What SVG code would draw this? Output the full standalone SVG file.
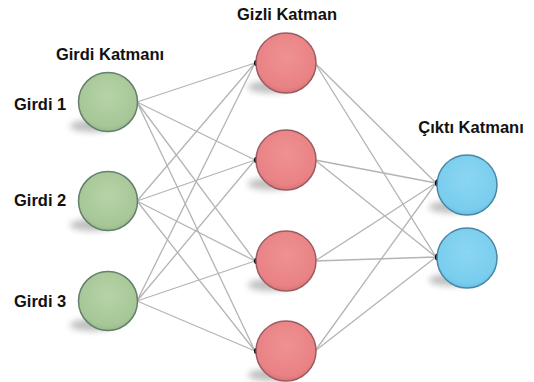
<svg xmlns="http://www.w3.org/2000/svg" width="534" height="382" viewBox="0 0 534 382">
<defs>
<style>
.lbl{font-family:"Liberation Sans",Arial,sans-serif;font-weight:bold;font-size:16.5px;fill:#111}
.ln{stroke:#b4b4b4;stroke-width:1.3;fill:none}
.g{fill:url(#gg);stroke:#64806c;stroke-width:1.5}
.r{fill:url(#gr);stroke:#9a5c62;stroke-width:1.5}
.b{fill:url(#gb);stroke:#4a87a6;stroke-width:1.5}
.sh{fill:#8a8a8a;opacity:0.55;filter:url(#blur)}
.dot{fill:#000}
</style>
<filter id="blur" x="-50%" y="-100%" width="200%" height="300%"><feGaussianBlur stdDeviation="3"/></filter>
<radialGradient id="gg" cx="0.5" cy="0.4" r="0.6"><stop offset="0" stop-color="#b5d3a7"/><stop offset="0.85" stop-color="#a7c798"/><stop offset="1" stop-color="#98ba89"/></radialGradient>
<radialGradient id="gr" cx="0.5" cy="0.4" r="0.6"><stop offset="0" stop-color="#ef9193"/><stop offset="0.85" stop-color="#e98284"/><stop offset="1" stop-color="#da7477"/></radialGradient>
<radialGradient id="gb" cx="0.5" cy="0.4" r="0.6"><stop offset="0" stop-color="#8ad6f3"/><stop offset="0.85" stop-color="#7acdee"/><stop offset="1" stop-color="#69c1e5"/></radialGradient>
</defs>
<rect width="534" height="382" fill="#fff"/>
<g id="connectors">
<path class="ln" d="M137,102L255,63M137,102L255,160M137,102L255,261M137,102L255,351"/>
<path class="ln" d="M137,201L255,63M137,201L255,160M137,201L255,261M137,201L255,351"/>
<path class="ln" d="M137,301L255,63M137,301L255,160M137,301L255,261M137,301L255,351"/>
<path class="ln" d="M315,63L436,183M315,160L436,183M315,261L436,183M315,351L436,183"/>
<path class="ln" d="M315,63L436,257M315,160L436,257M315,261L436,257M315,351L436,257"/>
<ellipse class="dot" cx="256" cy="63" rx="2" ry="3"/>
<ellipse class="dot" cx="256" cy="160" rx="2" ry="3"/>
<ellipse class="dot" cx="256" cy="261" rx="2" ry="3"/>
<ellipse class="dot" cx="256" cy="351" rx="2" ry="3"/>
<ellipse class="dot" cx="437" cy="183" rx="2" ry="3.5"/>
<ellipse class="dot" cx="437" cy="257" rx="2" ry="3.5"/>
</g>
<g id="input1"><ellipse class="sh" cx="92" cy="126" rx="22" ry="6"/><circle class="g" cx="108" cy="102" r="29.5"/></g>
<g id="input2"><ellipse class="sh" cx="92" cy="225" rx="22" ry="6"/><circle class="g" cx="108" cy="201" r="29.5"/></g>
<g id="input3"><ellipse class="sh" cx="92" cy="325" rx="22" ry="6"/><circle class="g" cx="108" cy="301" r="29.5"/></g>
<g id="hidden1"><ellipse class="sh" cx="270" cy="87" rx="22" ry="6"/><circle class="r" cx="286" cy="63" r="30"/></g>
<g id="hidden2"><ellipse class="sh" cx="270" cy="184" rx="22" ry="6"/><circle class="r" cx="286" cy="160" r="30"/></g>
<g id="hidden3"><ellipse class="sh" cx="270" cy="285" rx="22" ry="6"/><circle class="r" cx="286" cy="261" r="30"/></g>
<g id="hidden4"><ellipse class="sh" cx="270" cy="375" rx="22" ry="6"/><circle class="r" cx="286" cy="351" r="30"/></g>
<g id="output1"><ellipse class="sh" cx="451" cy="207" rx="22" ry="6"/><circle class="b" cx="467" cy="185" r="30"/></g>
<g id="output2"><ellipse class="sh" cx="451" cy="280" rx="22" ry="6"/><circle class="b" cx="467" cy="258" r="30"/></g>
<g id="labels">
<text class="lbl" x="287" y="20" text-anchor="middle">Gizli Katman</text>
<text class="lbl" x="110" y="60" text-anchor="middle">Girdi Katmanı</text>
<text class="lbl" x="471" y="133" text-anchor="middle">Çıktı Katmanı</text>
<text class="lbl" x="14" y="110">Girdi 1</text>
<text class="lbl" x="14" y="206">Girdi 2</text>
<text class="lbl" x="14" y="307">Girdi 3</text>
</g>
</svg>
